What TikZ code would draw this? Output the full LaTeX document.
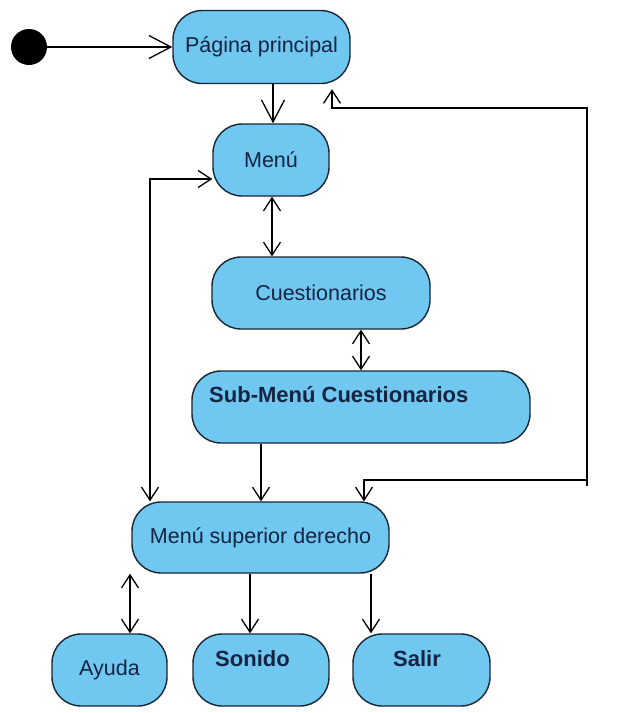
\documentclass[tikz,border=0pt]{standalone}
\usepackage{fontspec}
\setmainfont{Liberation Sans}
\usetikzlibrary{arrows.meta,calc}
\definecolor{boxfill}{RGB}{112,199,240}
\definecolor{boxline}{RGB}{24,38,52}
\definecolor{labelink}{RGB}{20,36,66}
\begin{document}
\begin{tikzpicture}[x=1pt,y=-1pt,
  state/.style={draw=boxline,fill=boxfill,line width=1.4pt,rounded corners=29pt,
    inner sep=0pt,font=\fontsize{21.5}{24}\selectfont,text=labelink},
  boldlabel/.style={font=\fontsize{22}{24}\selectfont\bfseries,text=labelink,inner sep=0pt},
  barb/.tip={Straight Barb[length=13pt,width=17pt,line width=1.3pt]},
  bigbarb/.tip={Straight Barb[length=22pt,width=23pt,line width=1.3pt]},
  flow/.style={line width=1.3pt,-barb},
  bigflow/.style={line width=1.3pt,-bigbarb},
  twoway/.style={line width=1.3pt,barb-barb}]

\useasboundingbox (0,0) rectangle (620,713);

% initial state
\node[circle,fill=black,minimum size=36pt,inner sep=0pt] (start) at (29,47) {};

% states
\node[state,minimum width=177pt,minimum height=73pt] (pag)   at (261.5,47)  {Página principal};
\node[state,minimum width=116pt,minimum height=72pt] (menu)  at (271,160)   {Menú};
\node[state,minimum width=218pt,minimum height=72pt] (cuest) at (321,293)   {Cuestionarios};
\node[state,minimum width=338pt,minimum height=72pt] (sub)   at (361,407)   {};
\node[state,minimum width=257pt,minimum height=71pt] (msup)  at (260.5,537.5) {Menú superior derecho};
\node[state,minimum width=115pt,minimum height=72pt] (ayuda) at (109.5,670) {Ayuda};
\node[state,minimum width=136pt,minimum height=72pt] (sonido) at (261,670)  {};
\node[state,minimum width=137pt,minimum height=72pt] (salir) at (421.5,670) {};

% bold labels set high in their boxes
\node[boldlabel,anchor=base west] (subtxt)    at (209,402) {Sub-Menú Cuestionarios};
\node[boldlabel,anchor=base west] (sonidotxt) at (215,666) {Sonido};
\node[boldlabel,anchor=base west] (salirtxt)  at (393,666) {Salir};

% connector columns and rows
\coordinate (xpm) at (273,0);
\coordinate (xmc) at (272,0);
\coordinate (xcs) at (361,0);
\coordinate (xsm) at (261,0);
\coordinate (xl)  at (150,0);
\coordinate (yl)  at (0,179);
\coordinate (xr)  at (364,0);
\coordinate (xp)  at (332,0);
\coordinate (rb)  at (587,480);
\coordinate (rt)  at (587,108);
\coordinate (xay) at (130,0);
\coordinate (xso) at (250,0);
\coordinate (xsa) at (371,0);

% connectors
\draw[bigflow] (start.east) -- (pag.west);
\draw[bigflow] (pag.south -| xpm) -- (menu.north -| xpm);
\draw[twoway] (menu.south -| xmc) -- (cuest.north -| xmc);
\draw[twoway] (cuest.south -| xcs) -- (sub.north -| xcs);
\draw[flow] (sub.south -| xsm) -- (msup.north -| xsm);
\draw[twoway] (msup.north -| xl) |- (menu.west |- yl);
\draw[twoway,shorten >=5pt] (msup.north -| xr) |- (rb) -- (rt) -- (rt -| xp) -- (pag.south -| xp);
\draw[line width=1.3pt] (rb) -- ++(0,6);
\draw[twoway] (msup.south -| xay) -- (ayuda.north -| xay);
\draw[flow] (msup.south -| xso) -- (sonido.north -| xso);
\draw[flow] (msup.south -| xsa) -- (salir.north -| xsa);
\end{tikzpicture}
\end{document}
